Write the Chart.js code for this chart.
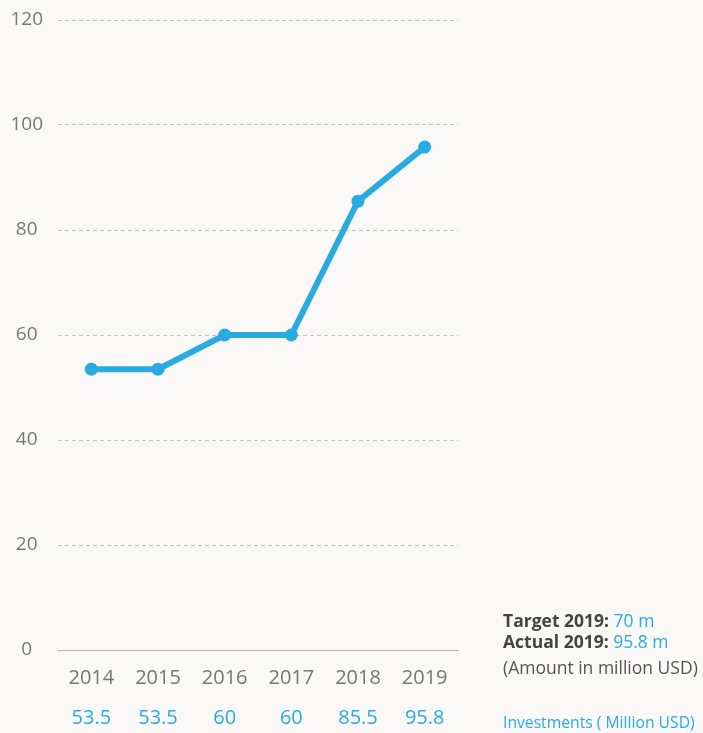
<!DOCTYPE html>
<html>
<head>
<meta charset="utf-8">
<script src="https://cdn.jsdelivr.net/npm/chart.js@4"></script>
<style>
  html, body { margin: 0; padding: 0; background: #faf9f8; }
  body { width: 703px; height: 733px; position: relative; overflow: hidden; font-family: "Open Sans", sans-serif; }
  #grafico { position: absolute; left: 0; top: 0; }
  .nota { position: absolute; left: 503px; font-size: 17.5px; line-height: 22px; color: #555; white-space: nowrap; }
  .nota b { color: #444; }
  .azul { color: #29abe2; }
</style>
</head>
<body>
<canvas id="grafico" width="703" height="733"></canvas>
<div class="nota" style="top:609px"><b>Target 2019:</b> <span class="azul">70 m</span></div>
<div class="nota" style="top:630px"><b>Actual 2019:</b> <span class="azul">95.8 m</span></div>
<div class="nota" style="top:656px">(Amount in million USD)</div>
<div class="nota azul" style="top:711px; font-size:15.7px">Investments ( Million USD)</div>
<script>
// dados
const anos = ['2014', '2015', '2016', '2017', '2018', '2019'];
const investimentos = [53.5, 53.5, 60, 60, 85.5, 95.8];
const rotulosValores = ['53.5', '53.5', '60', '60', '85.5', '95.8'];
const ticksY = [0, 20, 40, 60, 80, 100, 120];

const azul = '#29abe2';
const cinza = '#777';
const fonteY = { family: 'Open Sans', size: 19 };
const fonteX = { family: 'Open Sans', size: 20 };

const ctx = document.getElementById('grafico').getContext('2d');

new Chart(ctx, {
    type: 'line',
    data: {
        labels: anos,
        datasets: [{
            label: 'Investments ( Million USD)',
            data: investimentos,
            borderColor: azul,
            backgroundColor: azul,
            borderWidth: 6,
            pointRadius: 6.5,
            pointBackgroundColor: azul,
            pointBorderWidth: 0,
            tension: 0,
            xAxisID: 'x',
        }]
    },
    options: {
        responsive: false,
        animation: false,
        layout: { padding: { top: 20, right: 245, bottom: 0, left: 0 } },
        plugins: {
            legend: { display: false },
            tooltip: { enabled: false },
        },
        scales: {
            y: {
                min: 0,
                max: 120,
                afterFit: scale => {
                    scale.width = 58;
                    scale.paddingTop = 0;
                    scale.paddingBottom = 0;
                },
                afterBuildTicks: scale => { scale.ticks = ticksY.map(v => ({ value: v })); },
                grid: { color: '#c3c3c3', drawTicks: false, lineWidth: 1 },
                border: { display: false, dash: [4, 3] },
                ticks: {
                    color: cinza,
                    font: fonteY,
                    crossAlign: 'center',
                    padding: 15,
                },
            },
            x: {
                position: 'bottom',
                offset: true,
                afterFit: scale => { scale.height = 40; },
                grid: { display: false, drawTicks: false, offset: true },
                border: { display: true, color: '#b5b5b5', width: 1 },
                ticks: {
                    color: cinza,
                    font: fonteX,
                    padding: 16,
                    maxRotation: 0,
                },
            },
            x2: {
                type: 'category',
                position: 'bottom',
                offset: true,
                labels: rotulosValores,
                afterFit: scale => { scale.height = 43; },
                grid: { display: false, drawTicks: false, offset: true },
                border: { display: false },
                ticks: {
                    color: azul,
                    font: fonteX,
                    padding: 16,
                    maxRotation: 0,
                },
            },
        }
    }
});
</script>
</body>
</html>
